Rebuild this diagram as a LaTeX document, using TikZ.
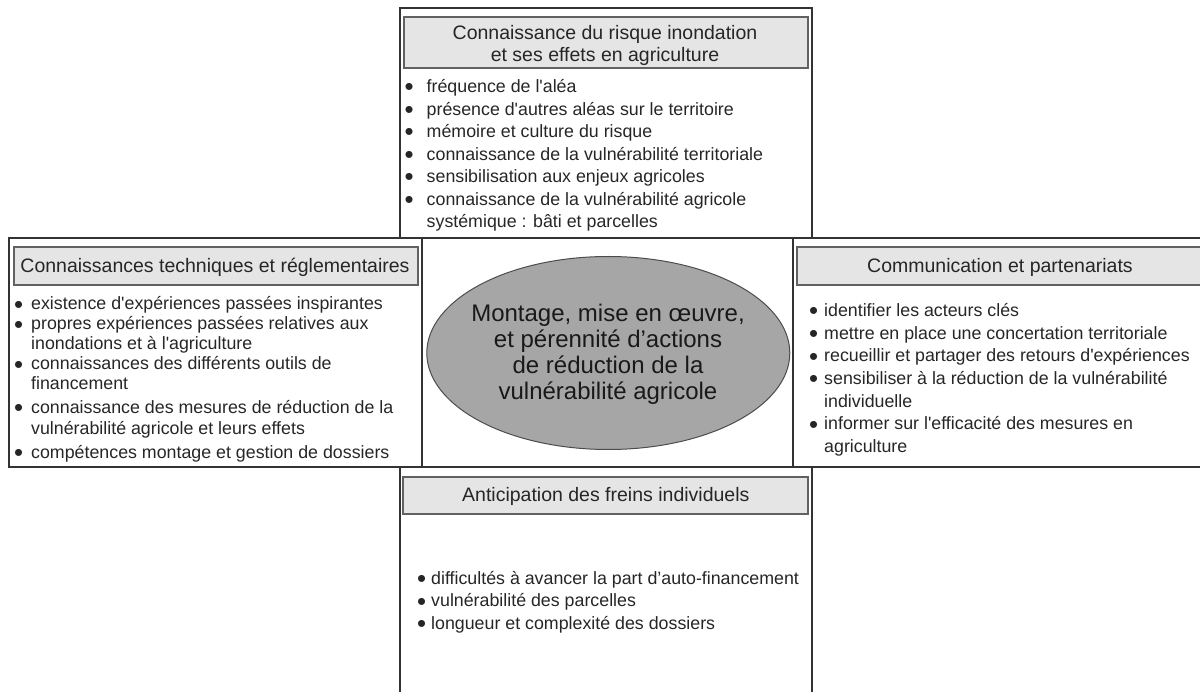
\documentclass[tikz,border=0pt]{standalone}
\usepackage{fontspec}
\setmainfont{Liberation Sans}[Ligatures=TeXOff]
\usetikzlibrary{shapes.geometric}
\newcommand\itm[1]{\makebox[#1][l]{\raisebox{-3.2pt}{\scalebox{1.45}{•}}}}
\newcommand\cnt[1]{\hspace*{#1}}
\begin{document}
\begin{tikzpicture}[x=1pt,y=-1pt,
  box/.style={draw=black!80, line width=1.2pt, inner sep=0pt},
  hdr/.style={draw=black!62, line width=1.6pt, fill=black!10, inner sep=0pt},
  hdrtxt/.style={anchor=base, inner sep=0pt, font=\fontsize{19.5}{22}\selectfont, text=black!85},
  lst/.style={anchor=base west, inner sep=0pt, text=black!85},
  body/.style={font=\fontsize{17.8}{22.5}\selectfont},
  ctr/.style={ellipse, draw=black!70, line width=1pt, fill=black!35, inner sep=0pt},
  ctrtxt/.style={anchor=base, inner sep=0pt, font=\fontsize{24}{26}\selectfont, text=black!90}]
\useasboundingbox (0,0) rectangle (1200,692);
\clip (0,0) rectangle (1200,692);
% boxes
\node[box, minimum width=412, minimum height=230] (top) at (606,123) {};
\node[box, minimum width=413, minimum height=229] (left) at (215.5,352.5) {};
\node[box, minimum width=414, minimum height=229] (right) at (1000,352.5) {};
\node[box, minimum width=412, minimum height=243] (bot) at (606,588.5) {};
% headers
\node[hdr, minimum width=404, minimum height=51] (htop) at (606,42.5) {};
\node[hdr, minimum width=404, minimum height=38] (hleft) at (216,266) {};
\node[hdr, minimum width=406, minimum height=38] (hright) at (1000,266) {};
\node[hdr, minimum width=405, minimum height=37] (hbot) at (605.5,495.5) {};
\node[hdrtxt] (ttop) at (605,40) {\begin{tabular}[t]{@{}c@{}}Connaissance du risque inondation\\ et ses effets en agriculture\end{tabular}};
\node[hdrtxt] (tleft) at (215,272.7) {Connaissances techniques et réglementaires};
\node[hdrtxt] (tright) at (1000,272.7) {Communication et partenariats};
\node[hdrtxt] (tbot) at (605.8,501.7) {Anticipation des freins individuels};
% centre
\node[ctr, minimum width=363, minimum height=193] (c) at (608.3,353) {};
\node[ctrtxt] (ctext) at (608,321.7) {\begin{tabular}[t]{@{}c@{}}Montage, mise en œuvre,\\ et pérennité d’actions\\ de réduction de la\\ vulnérabilité agricole\end{tabular}};
% lists
\node[lst, body] (ltop) at (404.5,92.7) {\begin{tabular}[t]{@{}l@{}}
\itm{22pt}fréquence de l'aléa\\
\itm{22pt}présence d'autres aléas sur le territoire\\
\itm{22pt}mémoire et culture du risque\\
\itm{22pt}connaissance de la vulnérabilité territoriale\\
\itm{22pt}sensibilisation aux enjeux agricoles\\
\itm{22pt}connaissance de la vulnérabilité agricole\\
\cnt{22pt}systémique : bâti et parcelles
\end{tabular}};
\node[lst, font=\fontsize{17.8}{20}\selectfont] (lleft) at (14,310) {\begin{tabular}[t]{@{}l@{}}
\itm{17pt}existence d'expériences passées inspirantes\\
\itm{17pt}propres expériences passées relatives aux\\
\cnt{17pt}inondations et à l'agriculture\\
\itm{17pt}connaissances des différents outils de\\
\cnt{17pt}financement\\[3.3pt]
\itm{17pt}connaissance des mesures de réduction de la\\[1pt]
\cnt{17pt}vulnérabilité agricole et leurs effets\\[4pt]
\itm{17pt}compétences montage et gestion de dossiers
\end{tabular}};
\node[lst, font=\fontsize{17.8}{22.7}\selectfont] (lright) at (809,316.5) {\begin{tabular}[t]{@{}l@{}}
\itm{15pt}identifier les acteurs clés\\
\itm{15pt}mettre en place une concertation territoriale\\
\itm{15pt}recueillir et partager des retours d'expériences\\
\itm{15pt}sensibiliser à la réduction de la vulnérabilité\\
\cnt{15pt}individuelle\\
\itm{15pt}informer sur l'efficacité des mesures en\\
\cnt{15pt}agriculture
\end{tabular}};
\node[lst, body] (lbot) at (417,584.3) {\begin{tabular}[t]{@{}l@{}}
\itm{14pt}difficultés à avancer la part d’auto-financement\\
\itm{14pt}vulnérabilité des parcelles\\
\itm{14pt}longueur et complexité des dossiers
\end{tabular}};
\end{tikzpicture}
\end{document}
